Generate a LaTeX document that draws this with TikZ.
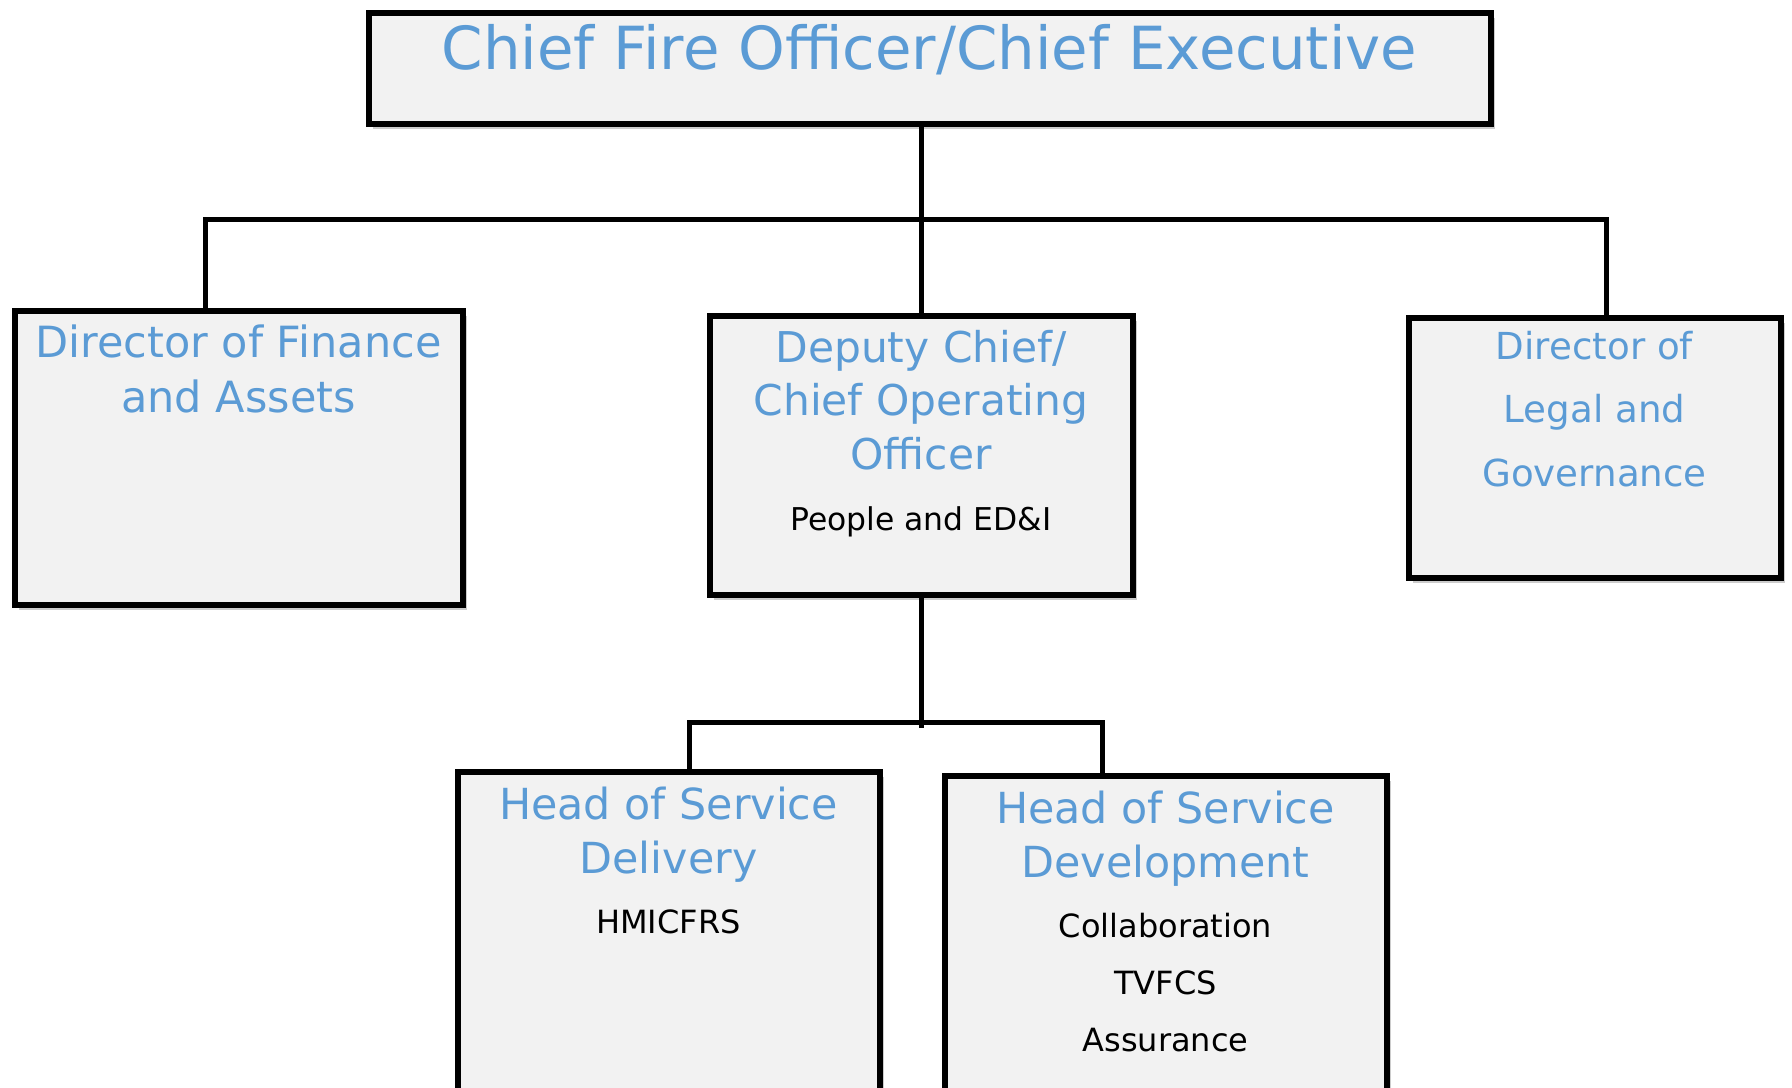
\documentclass[tikz,border=0pt]{standalone}
\usepackage{fontspec}
\newfontfamily\orgfont{DejaVu Sans}
\usetikzlibrary{calc,shadows}
\definecolor{postblue}{HTML}{5B9BD5}
\definecolor{postfill}{HTML}{F2F2F2}

\begin{document}
\begin{tikzpicture}[x=0.5pt,y=-0.5pt,
  post/.style={draw=black, line width=3pt, fill=postfill, inner sep=0pt,
    drop shadow={shadow xshift=2pt, shadow yshift=-2.5pt, opacity=0.4}},
  title/.style={text=postblue, align=center, inner sep=0pt, anchor=north},
  duty/.style={text=black, align=center, inner sep=0pt, anchor=north,
    font=\orgfont\fontsize{16}{28.5}\selectfont},
  link/.style={line width=2.5pt, line join=miter}]
  \useasboundingbox (0,0) rectangle (1792,1087);
  \clip (0,0) rectangle (1792,1087);

  % the posts
  \node[post, minimum width=561pt, minimum height=55.5pt] (cfo) at (929.5,68) {};
  \node[post, minimum width=224pt, minimum height=147pt] (fin) at (238.5,457.5) {};
  \node[post, minimum width=211.5pt, minimum height=139.5pt] (dep) at (921,455) {};
  \node[post, minimum width=186pt, minimum height=130pt] (leg) at (1594.5,447.5) {};
  \node[post, minimum width=211pt, minimum height=213.75pt] (del) at (668.5,986) {};
  \node[post, minimum width=221pt, minimum height=211.75pt] (dev) at (1165.5,988) {};

  % titles and remits
  \node[title, font=\orgfont\fontsize{29.7}{33}\selectfont] (cfot) at ($(cfo.north)+(0,14)$)
    {Chief Fire Officer/Chief Executive};
  \node[title, font=\orgfont\fontsize{21.5}{27.5}\selectfont] (fint) at ($(fin.north)+(0,17)$)
    {Director of Finance\\and Assets};
  \node[title, font=\orgfont\fontsize{21.2}{26.75}\selectfont] (dept) at ($(dep.north)+(0,17)$)
    {Deputy Chief/\\Chief Operating\\Officer};
  \node[duty, font=\orgfont\fontsize{15.7}{28.5}\selectfont] (depd) at ($(dep.north)+(0,194)$)
    {People and ED\&I};
  \node[title, font=\orgfont\fontsize{18.6}{31.75}\selectfont] (legt) at ($(leg.north)+(0,16)$)
    {Director of\\Legal and\\Governance};
  \node[title, font=\orgfont\fontsize{21.4}{27}\selectfont] (delt) at ($(del.north)+(0,17)$)
    {Head of Service\\Delivery};
  \node[duty] (deld) at ($(del.north)+(0,140)$) {HMICFRS};
  \node[title, font=\orgfont\fontsize{21.4}{27}\selectfont] (devt) at ($(dev.north)+(0,17)$)
    {Head of Service\\Development};
  \node[duty] (devd) at ($(dev.north)+(0,140)$) {Collaboration\\TVFCS\\Assurance};

  % reporting lines
  \coordinate (busL) at (205,219);
  \coordinate (busR) at (1606,219);
  \coordinate (subL) at (689,722);
  \coordinate (subR) at (1102,722);
  \draw[link] (cfo.south -| dep.north) -- (dep.north);
  \draw[link] (fin.north -| busL) -- (busL) -- (busR) -- (leg.north -| busR);
  \draw[link] (dep.south) -- ($(dep.south |- subL)+(0,6)$);
  \draw[link] (del.north -| subL) -- (subL) -- (subR) -- (dev.north -| subR);
\end{tikzpicture}
\end{document}
